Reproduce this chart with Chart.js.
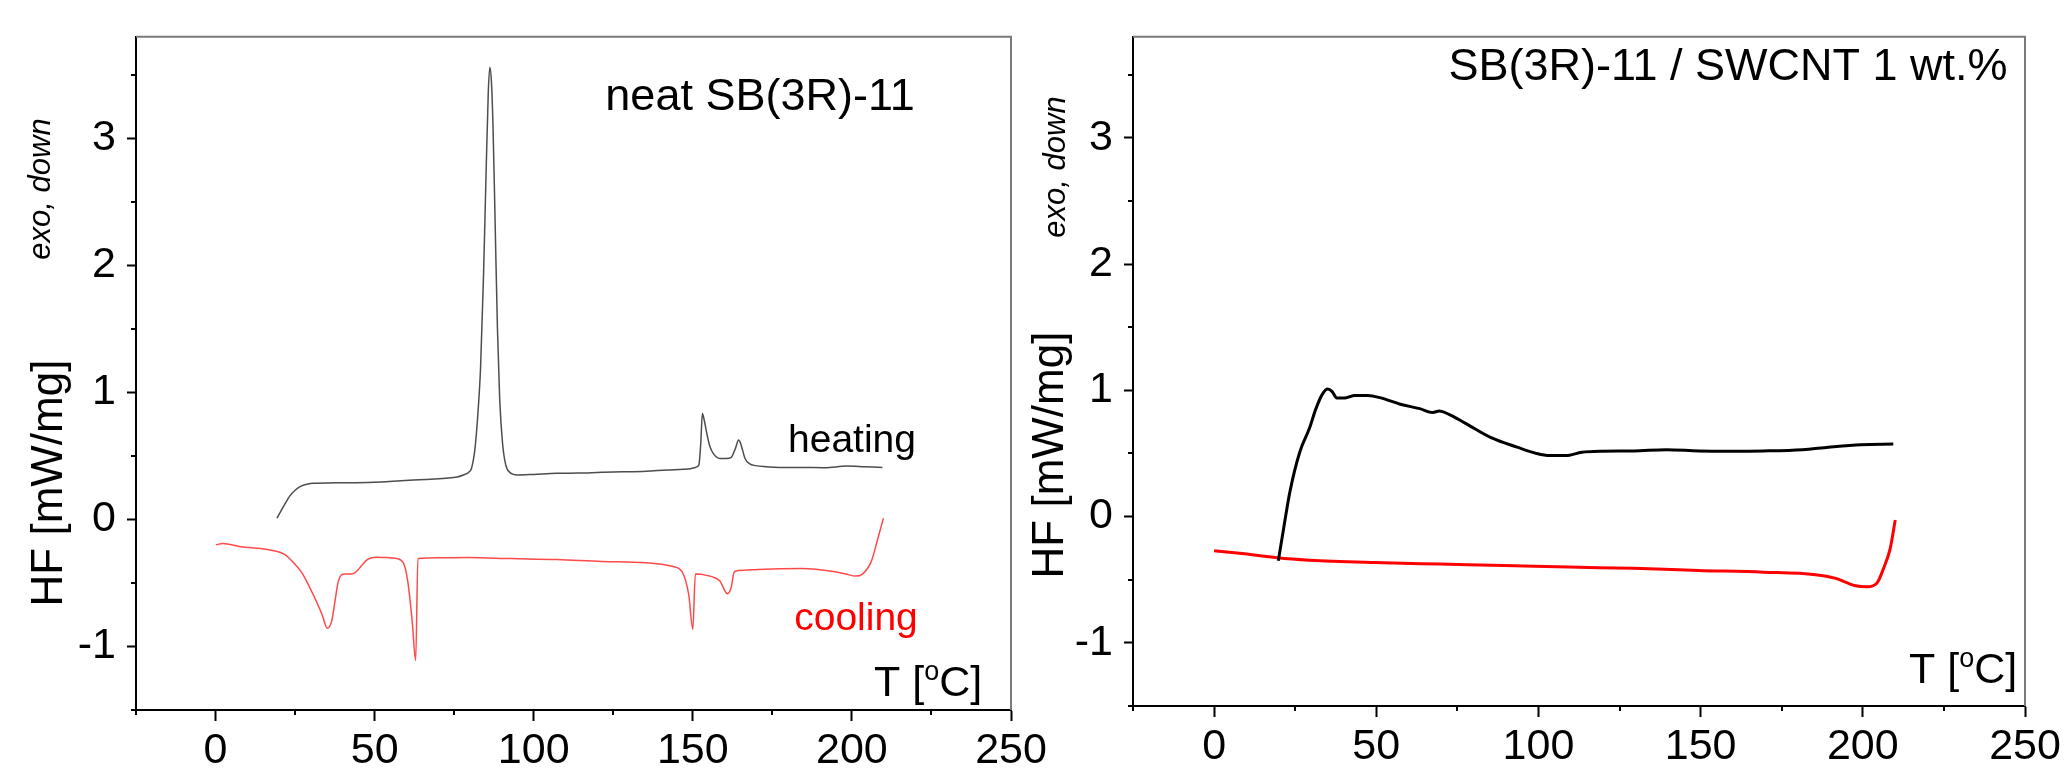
<!DOCTYPE html>
<html>
<head>
<meta charset="utf-8">
<script src="https://cdn.jsdelivr.net/npm/chart.js@4.4.1/dist/chart.umd.min.js"></script>
<style>
  html, body { margin: 0; padding: 0; background: #fff; }
  body { width: 2067px; height: 777px; position: relative; overflow: hidden; }
  .panel { position: absolute; top: 0; height: 777px; }
  #leftPanel { left: 0; width: 1060px; }
  #rightPanel { left: 1010px; width: 1057px; }
</style>
</head>
<body>
<div class="panel" id="leftPanel"><canvas id="neatChart"></canvas></div>
<div class="panel" id="rightPanel"><canvas id="swcntChart"></canvas></div>
<script>
// ============================================================
// Data (T in °C, HF in mW/mg)
// ============================================================

// neat SB(3R)-11 - heating
const neatHeatT = [19.3, 20.4, 22.0, 23.2, 25.0, 26.7, 29.0, 31.6, 38, 44.3, 52, 58.3, 66, 72.3, 76, 77.9, 79.5,
  80.4, 81.5, 82.5, 83.3, 84.2, 85.0, 85.7, 86.2, 86.7, 87.2, 87.9, 88.6, 89.3, 90.2, 91.2, 92.5, 95.0, 100,
  107.3, 114, 121.3, 128, 135.3, 142, 147, 149.3, 150.8, 151.9, 152.5, 153.0, 153.6, 154.3, 155.3, 156.4,
  158.5, 160.5, 162.0, 163.4, 164.4, 165.0, 165.7, 166.4, 167.8, 169.7, 173, 177.4, 184, 191.4, 198.4, 204, 209.6];
const neatHeatHF = [0.01, 0.06, 0.13, 0.18, 0.23, 0.26, 0.28, 0.285, 0.29, 0.29, 0.295, 0.305, 0.315, 0.325, 0.335, 0.35, 0.37,
  0.40, 0.55, 0.85, 1.2, 1.9, 2.7, 3.35, 3.56, 3.45, 3.1, 2.3, 1.5, 0.95, 0.6, 0.43, 0.37, 0.35, 0.355,
  0.364, 0.365, 0.372, 0.375, 0.38, 0.39, 0.395, 0.40, 0.41, 0.43, 0.6, 0.834, 0.78, 0.69, 0.58, 0.52,
  0.48, 0.48, 0.487, 0.56, 0.625, 0.6, 0.54, 0.48, 0.44, 0.424, 0.415, 0.41, 0.41, 0.408, 0.42, 0.415, 0.41];

// neat SB(3R)-11 - cooling
const neatCoolT = [0.1, 2.2, 8, 16.2, 21.8, 24.5, 27.4, 29.5, 31.6, 33.5, 35.1, 36.5, 37.5, 38.6, 40.3, 42.9, 44.3, 46,
  47.8, 50.5, 54, 56.9, 59.0, 60.4, 61.8, 62.9, 63.6, 70, 79.3, 93, 107.3, 121.3, 135.3, 143.8, 146.6, 148.7,
  150.0, 150.8, 154.3, 158.5, 160.9, 162.0, 163.1, 166, 170.4, 184.4, 194.2, 198, 201.3, 203.3, 206.1, 208.2, 209.9];
const neatCoolHF = [-0.2, -0.19, -0.215, -0.237, -0.276, -0.34, -0.43, -0.53, -0.64, -0.75, -0.856, -0.80, -0.65, -0.485, -0.43, -0.43, -0.41, -0.36,
  -0.315, -0.297, -0.3, -0.307, -0.34, -0.485, -0.80, -1.11, -0.307, -0.302, -0.30, -0.308, -0.315, -0.33, -0.34, -0.37, -0.41, -0.59,
  -0.864, -0.43, -0.44, -0.485, -0.585, -0.54, -0.41, -0.40, -0.393, -0.386, -0.41, -0.43, -0.446, -0.43, -0.33, -0.146, 0.01];

// SB(3R)-11 / SWCNT 1 wt.% - heating
const cntHeatT = [19.8, 21.4, 23.4, 26.4, 29.4, 31.4, 33.4, 35.0, 36.4, 37.8, 40.4, 43.4, 47.4, 51.4, 57.4, 63.4, 67.4, 69.4,
  72.4, 77.4, 85.4, 93.4, 99.4, 103.4, 108.4, 113.4, 119.4, 129.4, 139.4, 149.4, 159.4, 169.4, 181.4, 189.4, 199.4, 209.4];
const cntHeatHF = [-0.35, -0.10, 0.20, 0.51, 0.70, 0.855, 0.97, 1.01, 0.99, 0.94, 0.94, 0.96, 0.96, 0.94, 0.89, 0.855, 0.825, 0.836,
  0.81, 0.74, 0.625, 0.55, 0.50, 0.483, 0.483, 0.51, 0.518, 0.52, 0.53, 0.52, 0.518, 0.52, 0.53, 0.55, 0.57, 0.575];

// SB(3R)-11 / SWCNT 1 wt.% - cooling
const cntCoolT = [0, 9.4, 19.4, 29.4, 49.4, 69.4, 89.4, 109.4, 129.4, 149.4, 169.4, 185.4, 191.4, 197.4, 201.4, 204.4, 206.4, 208.4, 210];
const cntCoolHF = [-0.27, -0.295, -0.326, -0.345, -0.364, -0.376, -0.387, -0.40, -0.41, -0.426, -0.44, -0.46, -0.487, -0.545, -0.556, -0.525, -0.41, -0.257, -0.027];

// Axis ranges / ticks
const T_MIN = -25, T_MAX = 250, T_STEP = 25, T_LABEL_EVERY = 50;
const HF_MIN = -1.5, HF_MAX = 3.8, HF_STEP = 0.5;

const FONT = "'Liberation Sans', Arial, sans-serif";

const toPoints = (xs, ys) => xs.map((x, i) => ({ x, y: ys[i] }));

// ============================================================
// Plugin: grey top/right frame, short minor ticks, text labels
// ============================================================
function decorPlugin(texts) {
  return {
    id: 'decor',
    afterDraw(chart) {
      const { ctx, chartArea: a, scales: { x, y } } = chart;
      ctx.save();

      ctx.strokeStyle = '#7a7a7a';
      ctx.lineWidth = 2;
      ctx.beginPath();
      ctx.moveTo(a.left, a.top);
      ctx.lineTo(a.right, a.top);
      ctx.lineTo(a.right, a.bottom);
      ctx.stroke();

      // minor ticks
      ctx.strokeStyle = '#000';
      ctx.lineWidth = 2;
      ctx.beginPath();
      x.ticks.forEach((t) => {
        if (t.value % T_LABEL_EVERY !== 0) {
          const px = Math.round(x.getPixelForValue(t.value));
          ctx.moveTo(px, a.bottom);
          ctx.lineTo(px, a.bottom + 5);
        }
      });
      y.ticks.forEach((t) => {
        if (!Number.isInteger(t.value)) {
          const py = Math.round(y.getPixelForValue(t.value));
          ctx.moveTo(a.left, py);
          ctx.lineTo(a.left - 5, py);
        }
      });
      ctx.stroke();

      texts.forEach((t) => {
        ctx.save();
        ctx.fillStyle = t.color || '#000';
        ctx.font = `${t.italic ? 'italic ' : ''}${t.size}px ${FONT}`;
        ctx.textBaseline = 'alphabetic';
        if (t.rotate) {
          ctx.translate(t.x, t.y);
          ctx.rotate(-Math.PI / 2);
          ctx.textAlign = 'center';
          ctx.fillText(t.text, 0, 0);
        } else if (t.degC) {
          // "T [°C]" with a superscript o
          ctx.textAlign = 'left';
          let cx = t.x;
          ctx.fillText('T [', cx, t.y);
          cx += ctx.measureText('T [').width;
          ctx.font = `${Math.round(t.size * 0.62)}px ${FONT}`;
          ctx.fillText('o', cx, t.y - t.size * 0.38);
          cx += ctx.measureText('o').width;
          ctx.font = `${t.size}px ${FONT}`;
          ctx.fillText('C]', cx, t.y);
        } else {
          ctx.textAlign = 'center';
          ctx.fillText(t.text, t.x, t.y);
        }
        ctx.restore();
      });

      ctx.restore();
    }
  };
}

function buildChart(canvasId, datasets, layout, texts) {
  return new Chart(document.getElementById(canvasId), {
    type: 'line',
    data: { datasets },
    options: {
      responsive: true,
      maintainAspectRatio: false,
      animation: false,
      layout: { padding: { left: 0, top: layout.top, right: layout.right, bottom: 0 } },
      plugins: { legend: { display: false }, tooltip: { enabled: false } },
      elements: { point: { radius: 0 }, line: { cubicInterpolationMode: 'monotone' } },
      scales: {
        x: {
          type: 'linear',
          min: T_MIN,
          max: T_MAX,
          afterFit: (s) => { s.height = layout.xHeight; },
          ticks: {
            stepSize: T_STEP,
            autoSkip: false,
            maxRotation: 0,
            includeBounds: false,
            padding: 4,
            color: '#000',
            font: { family: FONT, size: 43 },
            callback: (v) => (v % T_LABEL_EVERY === 0 ? String(v) : '')
          },
          grid: {
            drawOnChartArea: false,
            tickLength: 11,
            tickWidth: 2,
            tickColor: (c) => (c.tick && c.tick.value % T_LABEL_EVERY === 0 ? '#000' : 'rgba(0,0,0,0)')
          },
          border: { color: '#000', width: 2 }
        },
        y: {
          type: 'linear',
          min: HF_MIN,
          max: HF_MAX,
          afterFit: (s) => { s.width = layout.yWidth; },
          ticks: {
            stepSize: HF_STEP,
            includeBounds: false,
            padding: 11,
            color: '#000',
            font: { family: FONT, size: 43 },
            callback: (v) => (Number.isInteger(v) ? String(v) : '')
          },
          grid: {
            drawOnChartArea: false,
            tickLength: 9,
            tickWidth: 2,
            tickColor: (c) => (c.tick && Number.isInteger(c.tick.value) ? '#000' : 'rgba(0,0,0,0)')
          },
          border: { color: '#000', width: 2 }
        }
      }
    },
    plugins: [decorPlugin(texts)]
  });
}

// Left: neat SB(3R)-11
buildChart('neatChart', [
  { label: 'heating', data: toPoints(neatHeatT, neatHeatHF), borderColor: '#4d4d4d', borderWidth: 1.5 },
  { label: 'cooling', data: toPoints(neatCoolT, neatCoolHF), borderColor: '#ff4a4a', borderWidth: 1.5 }
], { top: 33, right: 49, xHeight: 67, yWidth: 136 }, [
  { text: 'HF [mW/mg]', x: 62, y: 483, size: 44, rotate: true },
  { text: 'exo, down', x: 50, y: 189, size: 31, rotate: true, italic: true },
  { text: 'neat SB(3R)-11', x: 760, y: 110, size: 45 },
  { text: 'heating', x: 852, y: 452, size: 39 },
  { text: 'cooling', x: 856, y: 630, size: 39, color: '#ff0000' },
  { degC: true, x: 874, y: 696, size: 43 }
]);

// Right: SB(3R)-11 / SWCNT 1 wt.%
buildChart('swcntChart', [
  { label: 'heating', data: toPoints(cntHeatT, cntHeatHF), borderColor: '#000000', borderWidth: 3 },
  { label: 'cooling', data: toPoints(cntCoolT, cntCoolHF), borderColor: '#ff0000', borderWidth: 3 }
], { top: 22, right: 42, xHeight: 71, yWidth: 123 }, [
  { text: 'HF [mW/mg]', x: 53, y: 455, size: 44, rotate: true },
  { text: 'exo, down', x: 55, y: 167, size: 31, rotate: true, italic: true },
  { text: 'SB(3R)-11 / SWCNT 1 wt.%', x: 718, y: 80, size: 45 },
  { degC: true, x: 899, y: 683, size: 43 }
]);
</script>
</body>
</html>
